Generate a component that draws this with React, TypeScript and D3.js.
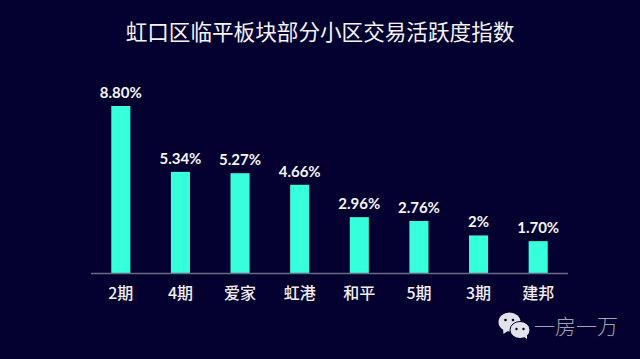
import React from "react";
import * as d3 from "d3";

const categories = ["2期", "4期", "爱家", "虹港", "和平", "5期", "3期", "建邦"];
const values = [8.8, 5.34, 5.27, 4.66, 2.96, 2.76, 2, 1.7];
const valueLabels = ["8.80%", "5.34%", "5.27%", "4.66%", "2.96%", "2.76%", "2%", "1.70%"];
const titleText = "虹口区临平板块部分小区交易活跃度指数";
const brandText = "一房一万";

const W = 640, H = 359;
const x = d3.scaleBand<string>().domain(categories).range([91, 568]).paddingInner(0.68).paddingOuter(0.34);
const y = d3.scaleLinear().domain([0, 8.8]).range([273.5, 106]);
const CJK = "'Noto Sans CJK SC', sans-serif";
const LAT = "Lato, 'Open Sans', sans-serif";

export default function App() {
  return (
    <svg width={W} height={H} viewBox={`0 0 ${W} ${H}`} style={{ position: "fixed", left: 0, top: 0, display: "block" }}>
      <rect width={W} height={H} fill="#040030" />
      <text x={320} y={39.5} textAnchor="middle" fill="#f4f4f8" fontFamily={CJK} fontSize={21.6} fontWeight={400}>{titleText}</text>
      {categories.map((c, i) => {
        const cx = x(c)! + x.bandwidth() / 2;
        return (
          <g key={c}>
            <rect x={x(c)} y={y(values[i])} width={x.bandwidth()} height={y(0) - y(values[i])} fill="#36ffdc" />
            <text x={cx} y={y(values[i]) - 8} textAnchor="middle" fill="#f6f6fa" fontFamily={LAT} fontSize={15} fontWeight={700}>{valueLabels[i]}</text>
            <text x={cx} y={298.5} textAnchor="middle" fill="#f0f0f4" fontFamily={CJK} fontSize={16} fontWeight={500}>{c}</text>
          </g>
        );
      })}
      <line x1={91} x2={568} y1={273.5} y2={273.5} stroke="#6e6a86" strokeWidth={1.5} />
      <g fill="#e2e2ea">
        <ellipse cx={509.5} cy={322} rx={11} ry={9.5} />
        <path d="M503 329 L503.5 334 L509 330 Z" />
        <ellipse cx={520} cy={330} rx={10} ry={8.5} stroke="#040030" strokeWidth={1} />
        <path d="M524 337 L527 339 L527 335 Z" />
      </g>
      <g fill="#040030">
        <circle cx={505.5} cy={320} r={1.3} /><circle cx={513} cy={320} r={1.3} />
        <circle cx={516.5} cy={329} r={1.2} /><circle cx={523.5} cy={329} r={1.2} />
      </g>
      <text x={534} y={334} fill="#a4a4b0" fontFamily={CJK} fontSize={21} fontWeight={300}>{brandText}</text>
    </svg>
  );
}
